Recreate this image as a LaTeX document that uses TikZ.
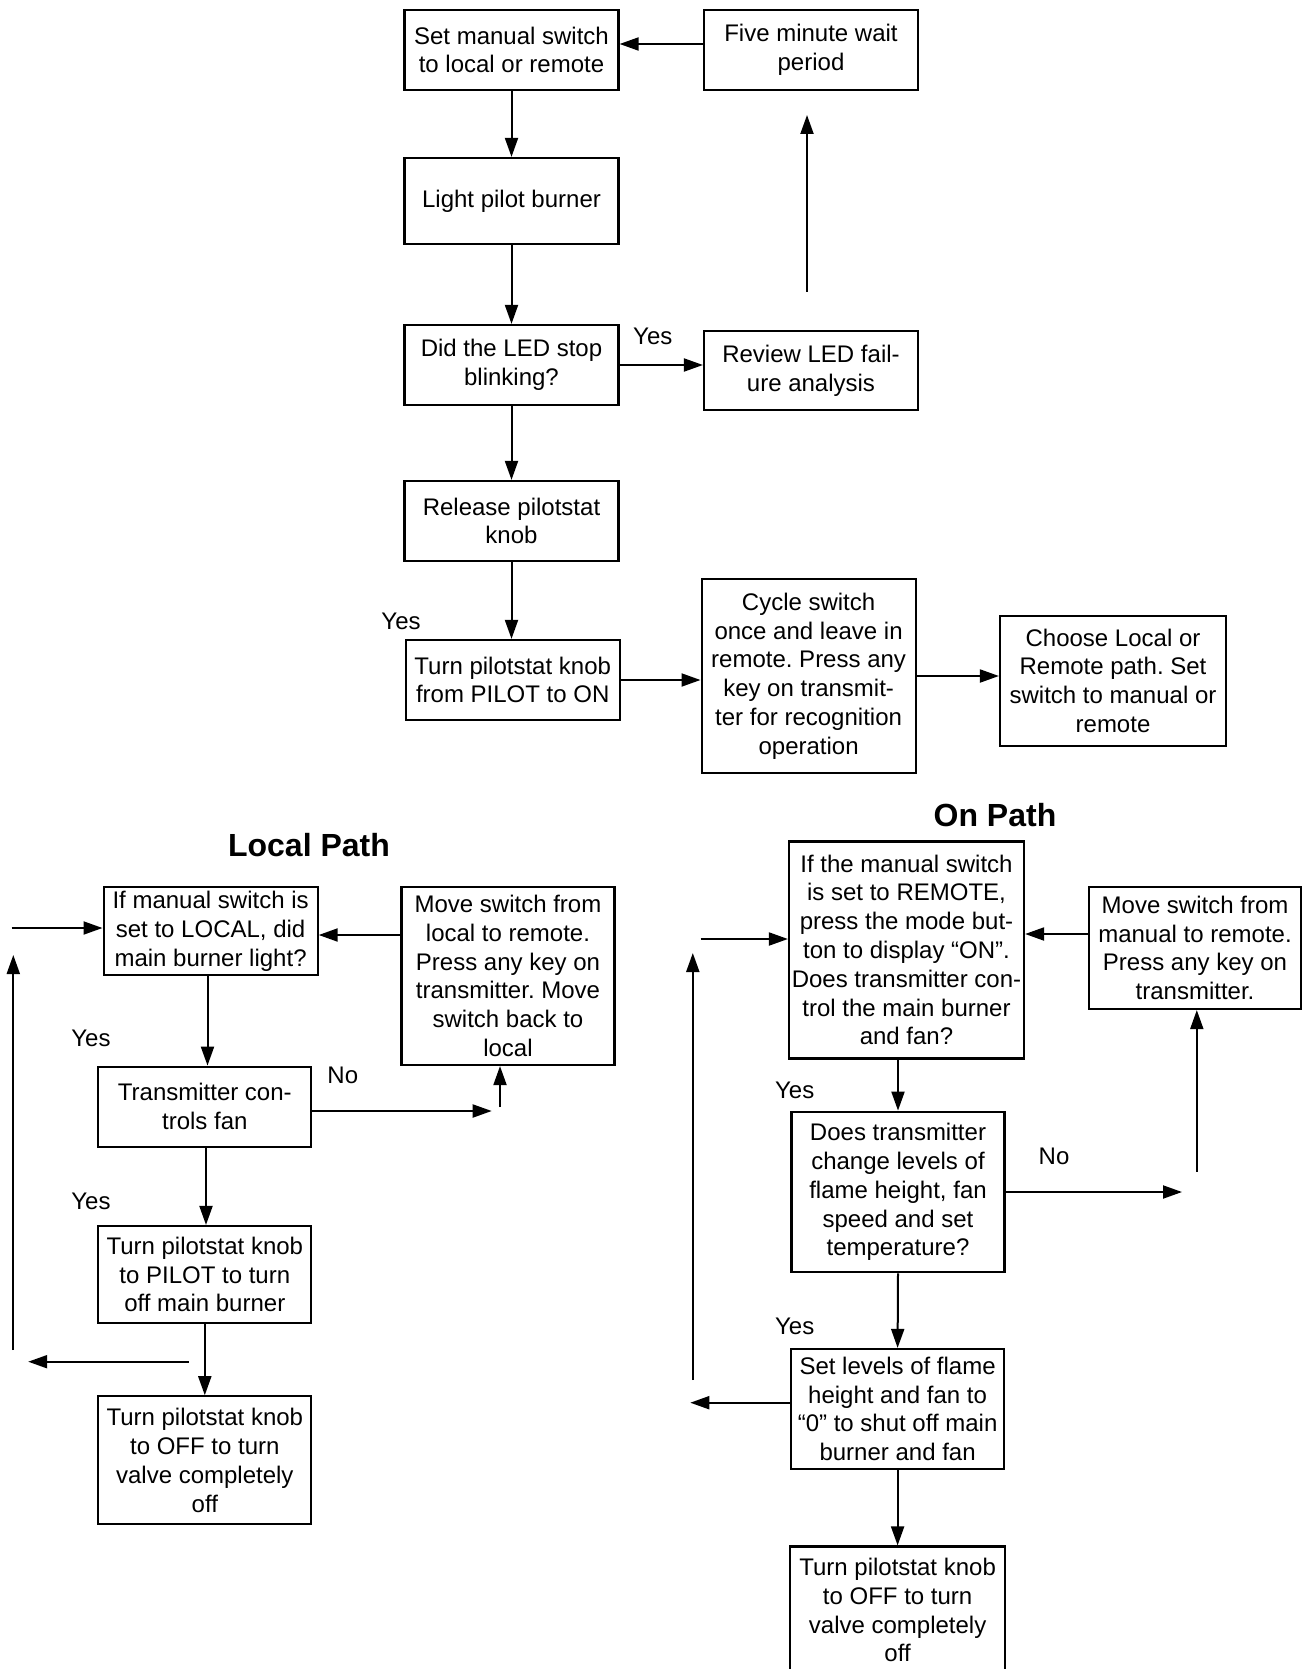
\documentclass[tikz,border=0pt]{standalone}
\usepackage{fontspec}
\setmainfont{Liberation Sans}
\usetikzlibrary{arrows.meta}
\begin{document}
\frenchspacing
\begin{tikzpicture}[x=0.5pt,y=-0.5pt,
  flowbox/.style={draw, line width=1.1pt, align=center, inner sep=0pt, font=\fontsize{12}{14.4}\selectfont},
  arr/.style={line width=1pt, -{Triangle[length=9.5pt,width=6.5pt]}},
  lbl/.style={font=\fontsize{12}{14.4}\selectfont},
  ttl/.style={font=\fontsize{16}{19}\selectfont\bfseries}]
\useasboundingbox (0,0) rectangle (1302,1669);
\clip (0,0) rectangle (1302,1669);

% ---------------- top part ----------------
\node[flowbox, minimum width=107pt, minimum height=40pt] (A) at (511.5,50) {Set manual switch\\to local or remote};
\node[flowbox, minimum width=107pt, minimum height=40pt] (B) at (811,50) {Five minute wait\\period};
\node[flowbox, minimum width=107pt, minimum height=43pt] (C) at (511.5,201) {Light pilot burner};
\node[flowbox, minimum width=107pt, minimum height=40pt] (D) at (511.5,365) {Did the LED stop\\blinking?};
\node[flowbox, minimum width=107pt, minimum height=39.5pt] (E) at (811,370.5) {Review LED fail-\\ure analysis};
\node[flowbox, minimum width=107pt, minimum height=40pt] (F) at (511.5,521) {Release pilotstat\\knob};
\node[flowbox, minimum width=107pt, minimum height=40pt] (G) at (512.7,680) {Turn pilotstat knob\\from PILOT to ON};
\node[flowbox, minimum width=107pt, minimum height=97pt] (H) at (808.6,676) {Cycle switch\\once and leave in\\remote. Press any\\key on transmit-\\ter for recognition\\operation};
\node[flowbox, minimum width=113pt, minimum height=65pt] (I) at (1113,680.7) {Choose Local or\\Remote path. Set\\switch to manual or\\remote};

\coordinate (yBA) at (0,44);
\draw[arr] (B.west |- yBA) -- (A.east |- yBA);
\draw[arr] (A.south) -- (C.north);
\draw[arr] (C.south) -- (D.north);
\draw[arr] (D.east) -- (D.east -| E.west);
\node[lbl] (yes1) at (652.8,336) {Yes};
\coordinate (eup1) at (807,291.7);
\coordinate (eup2) at (807,115);
\draw[arr] (eup1) -- (eup2);
\draw[arr] (D.south) -- (F.north);
\draw[arr] (F.south) -- (F.south |- G.north);
\node[lbl] (yes2) at (401,621.7) {Yes};
\draw[arr] (G.east) -- (G.east -| H.west);
\draw[arr] (H.east) -- (H.east -| I.west);

% ---------------- Local path ----------------
\node[ttl] (loctitle) at (309,845) {Local Path};
\node[flowbox, minimum width=107pt, minimum height=44pt] (L1) at (210.6,931) {If manual switch is\\set to LOCAL, did\\main burner light?};
\node[flowbox, minimum width=106.5pt, minimum height=89pt] (L2) at (508,976) {Move switch from\\local to remote.\\Press any key on\\transmitter. Move\\switch back to\\local};
\node[flowbox, minimum width=106.5pt, minimum height=40pt] (L3) at (204.8,1106.7) {Transmitter con-\\trols fan};
\node[flowbox, minimum width=106.5pt, minimum height=48.5pt] (L4) at (204.8,1274.5) {Turn pilotstat knob\\to PILOT to turn\\off main burner};
\node[flowbox, minimum width=106.5pt, minimum height=64pt] (L5) at (204.8,1460.3) {Turn pilotstat knob\\to OFF to turn\\valve completely\\off};

\coordinate (lin) at (11.5,928);
\draw[arr] (lin) -- (lin -| L1.west);
\coordinate (lup1) at (13.3,1350);
\coordinate (lup2) at (13.3,955);
\draw[arr] (lup1) -- (lup2);
\coordinate (yL) at (0,935);
\draw[arr] (L2.west |- yL) -- (L1.east |- yL);
\coordinate (xL) at (207.5,0);
\draw[arr] (L1.south -| xL) -- (L3.north -| xL);
\node[lbl] (yes3) at (91,1038) {Yes};
\node[lbl] (no1) at (342.8,1075) {No};
\coordinate (lno) at (491.7,1111);
\draw[arr] (L3.east |- lno) -- (lno);
\coordinate (lup3) at (500,1107);
\draw[arr] (lup3) -- (L2.south -| lup3);
\coordinate (xL2) at (206,0);
\draw[arr] (L3.south -| xL2) -- (L4.north -| xL2);
\node[lbl] (yes4) at (91,1201.7) {Yes};
\draw[arr] (L4.south) -- (L5.north);
\coordinate (lback1) at (188.8,1361.7);
\coordinate (lback2) at (28.2,1361.7);
\draw[arr] (lback1) -- (lback2);

% ---------------- On path ----------------
\node[ttl] (ontitle) at (995,815) {On Path};
\node[flowbox, minimum width=117.5pt, minimum height=108.5pt] (O1) at (906.5,950) {If the manual switch\\is set to REMOTE,\\press the mode but-\\ton to display “ON”.\\Does transmitter con-\\trol the main burner\\and fan?};
\node[flowbox, minimum width=106pt, minimum height=61pt] (O2) at (1195,948) {Move switch from\\manual to remote.\\Press any key on\\transmitter.};
\node[flowbox, minimum width=106.5pt, minimum height=80.3pt] (O3) at (898,1192) {Does transmitter\\change levels of\\flame height, fan\\speed and set\\temperature?};
\node[flowbox, minimum width=106.3pt, minimum height=60pt] (O4) at (897.6,1409) {Set levels of flame\\height and fan to\\“0” to shut off main\\burner and fan};
\node[flowbox, minimum width=107.5pt, minimum height=63.5pt] (O5) at (897.6,1610) {Turn pilotstat knob\\to OFF to turn\\valve completely\\off};

\coordinate (oin) at (700.7,939);
\draw[arr] (oin) -- (oin -| O1.west);
\coordinate (oup1) at (692.8,1380);
\coordinate (oup2) at (692.8,953);
\draw[arr] (oup1) -- (oup2);
\coordinate (yO) at (0,934);
\draw[arr] (O2.west |- yO) -- (O1.east |- yO);
\draw[arr] (O3.north |- O1.south) -- (O3.north);
\node[lbl] (yes5) at (794.7,1090) {Yes};
\coordinate (ono) at (1182,1192);
\draw[arr] (O3.east) -- (ono);
\node[lbl] (no2) at (1054,1156.7) {No};
\coordinate (oup3) at (1196.8,1171.7);
\draw[arr] (oup3) -- (O2.south -| oup3);
\draw[arr] (O3.south) -- (O4.north);
\node[lbl] (yes6) at (794.7,1326.7) {Yes};
\coordinate (yO4) at (0,1402.7);
\coordinate (oback) at (690.3,1402.7);
\draw[arr] (O4.west |- yO4) -- (oback);
\draw[arr] (O4.south) -- (O5.north);
\end{tikzpicture}
\end{document}
